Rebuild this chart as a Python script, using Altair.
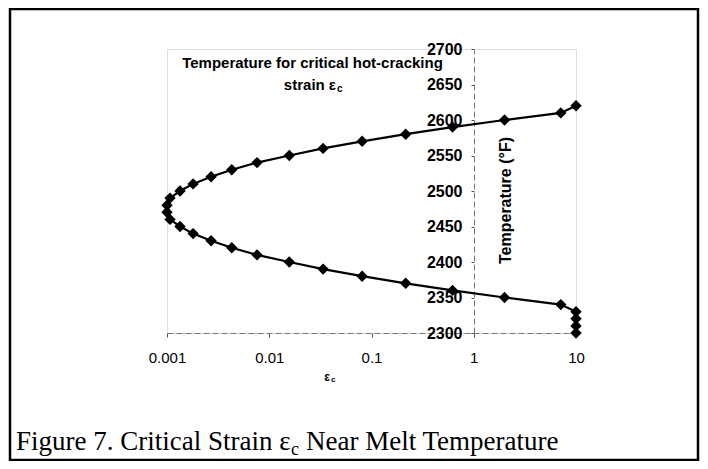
import altair as alt
import pandas as pd

# ---- data ----
eps_upper = [10, 7.1, 2.0, 0.62, 0.216, 0.081, 0.0336, 0.0157, 0.0076, 0.0043, 0.0027, 0.0018, 0.00134, 0.00107, 0.00100]
temp_upper = [2620, 2610, 2600, 2590, 2580, 2570, 2560, 2550, 2540, 2530, 2520, 2510, 2500, 2490, 2480]
eps_lower = [0.00100, 0.00107, 0.00134, 0.0018, 0.0027, 0.0043, 0.0076, 0.0157, 0.0336, 0.081, 0.216, 0.62, 2.0, 7.1, 10, 10, 10, 10]
temp_lower = [2470, 2460, 2450, 2440, 2430, 2420, 2410, 2400, 2390, 2380, 2370, 2360, 2350, 2340, 2330, 2320, 2310, 2300]

x_ticks = [0.001, 0.01, 0.1, 1, 10]
y_ticks = [2300, 2350, 2400, 2450, 2500, 2550, 2600, 2650, 2700]

eps = eps_upper + eps_lower
temp = temp_upper + temp_lower
df = pd.DataFrame({"eps": eps, "temp": temp, "order": list(range(len(eps)))})

W, H = 409, 284
SANS = "Liberation Sans"
SERIF = "Liberation Serif"

xscale = alt.Scale(type="log", domain=[0.001, 10], nice=False)
yscale = alt.Scale(domain=[2300, 2700], nice=False, zero=False)

base = alt.Chart(df)

xaxis = alt.Axis(
    values=x_ticks, labelExpr="format(datum.value, '~g')", title=None,
    grid=False, domainColor="#777", domainDash=[6, 3], tickColor="#555",
    tickSize=4, labelPadding=13, labelFont=SANS, labelFontSize=15,
    labelColor="black", labelFlush=False, labelOverlap=False,
)
yaxis = alt.Axis(
    values=y_ticks, format="d", orient="left", offset=-307,
    grid=False, domainColor="#777", domainDash=[6, 3], tickColor="#555",
    tickSize=3, labelPadding=9, labelFont=SANS, labelFontSize=16,
    labelFontWeight="bold", labelColor="black", labelFlush=False,
    labelOverlap=False,
    title="Temperature (°F)", titleFont=SANS, titleFontSize=16,
    titleFontWeight="bold", titleColor="black", titleAngle=270,
    titleX=31, titleY=151, titleAlign="center", titleBaseline="middle",
)

line = base.mark_line(color="black", strokeWidth=2.2).encode(
    x=alt.X("eps:Q", scale=xscale, axis=xaxis),
    y=alt.Y("temp:Q", scale=yscale, axis=yaxis),
    order="order:Q",
)
pts = base.mark_point(shape="diamond", filled=True, color="black", size=130, opacity=1).encode(
    x=alt.X("eps:Q", scale=xscale, axis=xaxis),
    y=alt.Y("temp:Q", scale=yscale, axis=yaxis),
)

one = pd.DataFrame({"a": [0]})


def txt(s, x, y, size, font=SANS, weight="bold", align="left", baseline="middle"):
    return alt.Chart(one).mark_text(
        text=s, font=font, fontSize=size, fontWeight=weight, align=align,
        baseline=baseline, color="black",
    ).encode(x=alt.value(x), y=alt.value(y))


title1 = txt("Temperature for critical hot-cracking", 145.5, 14, 15, align="center")
title2a = txt("strain ε", 169, 36, 15, align="right")
title2b = txt("c", 170, 40, 10)
xt_a = txt("ε", 163, 328, 12, align="right")
xt_b = txt("c", 164, 331, 8)
cap_a = txt("Figure 7. Critical Strain ε", -151, 401, 27, font=SERIF, weight="normal", baseline="alphabetic")
cap_b = txt("c", 124, 406, 18, font=SERIF, weight="normal", baseline="alphabetic")
cap_c = txt("Near Melt Temperature", 139, 401, 27, font=SERIF, weight="normal", baseline="alphabetic")

box = alt.Chart(one).mark_rect(filled=False, stroke="black", strokeWidth=2.5).encode(
    x=alt.value(-157), x2=alt.value(531), y=alt.value(-40), y2=alt.value(411)
)

chart = alt.layer(
    box, line, pts, title1, title2a, title2b, xt_a, xt_b, cap_a, cap_b, cap_c
).properties(
    width=W, height=H,
    autosize=alt.AutoSizeParams(type="none"),
    padding={"left": 159, "top": 41, "right": 124, "bottom": 128},
).configure_view(
    stroke="#888", strokeDash=[5, 3], strokeWidth=1
).configure(background="white")

chart.save("out.html", embed_options={"renderer": "svg", "actions": False})
